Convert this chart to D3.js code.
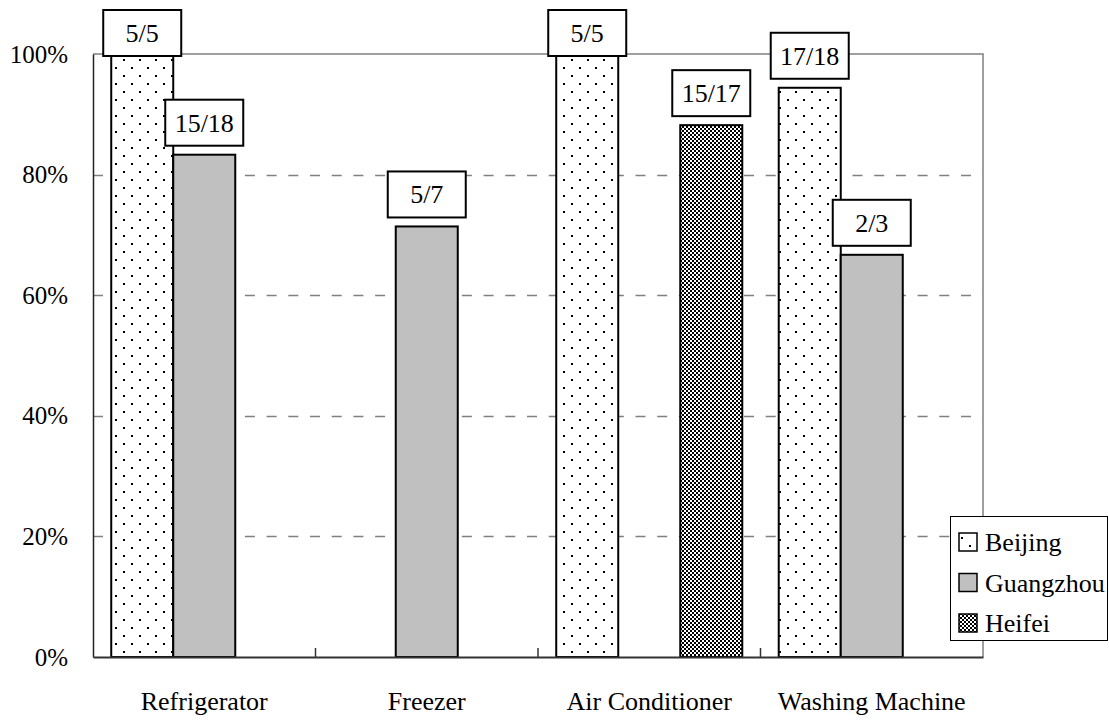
<!DOCTYPE html>
<html>
<head>
<meta charset="utf-8">
<script src="https://cdn.jsdelivr.net/npm/d3@7"></script>
<style>
  html, body { margin: 0; padding: 0; background: #fff; }
</style>
</head>
<body>
<svg id="chart" width="1109" height="722"></svg>
<script>
// ---- data ----
const categories = ["Refrigerator", "Freezer", "Air Conditioner", "Washing Machine"];
const seriesNames = ["Beijing", "Guangzhou", "Heifei"];
const beijingValues   = [1.0, null, 1.0, 0.944];
const guangzhouValues = [0.833, 0.714, null, 0.667];
const heifeiValues    = [null, null, 0.882, null];
const beijingLabels   = ["5/5", null, "5/5", "17/18"];
const guangzhouLabels = ["15/18", "5/7", null, "2/3"];
const heifeiLabels    = [null, null, "15/17", null];
const yTicks = [0, 0.2, 0.4, 0.6, 0.8, 1.0];
const yTickLabels = ["0%", "20%", "40%", "60%", "80%", "100%"];

const seriesValues = [beijingValues, guangzhouValues, heifeiValues];
const seriesLabels = [beijingLabels, guangzhouLabels, heifeiLabels];

// ---- layout ----
const FONT = "Liberation Serif";
const svg = d3.select("#chart");
const L = 93, R = 983, T = 54, B = 657;

const defs = svg.append("defs");
const dots = defs.append("pattern").attr("id", "dots")
  .attr("patternUnits", "userSpaceOnUse").attr("width", 16).attr("height", 16);
dots.append("rect").attr("width", 16).attr("height", 16).attr("fill", "#fff");
dots.append("rect").attr("x", 3).attr("y", 3).attr("width", 2).attr("height", 2).attr("fill", "#000");
dots.append("rect").attr("x", 11).attr("y", 11).attr("width", 2).attr("height", 2).attr("fill", "#000");

const checker = defs.append("pattern").attr("id", "checker")
  .attr("patternUnits", "userSpaceOnUse").attr("width", 4).attr("height", 4);
checker.append("rect").attr("width", 4).attr("height", 4).attr("fill", "#fff");
checker.append("rect").attr("x", 0).attr("y", 0).attr("width", 2).attr("height", 2).attr("fill", "#000");
checker.append("rect").attr("x", 2).attr("y", 2).attr("width", 2).attr("height", 2).attr("fill", "#000");

const fills = { "Beijing": "url(#dots)", "Guangzhou": "#C0C0C0", "Heifei": "url(#checker)" };

const x0 = d3.scaleBand().domain(categories).range([L, R]).paddingInner(0).paddingOuter(0);
const x1 = d3.scaleBand().domain(seriesNames).range([0, x0.bandwidth()]).paddingInner(0).paddingOuter(0.294);
const y = d3.scaleLinear().domain([0, 1]).range([B, T]);

// gridlines
svg.append("g").selectAll("line").data(yTicks.filter(t => t > 0 && t < 1)).join("line")
  .attr("x1", L).attr("x2", R)
  .attr("y1", d => Math.round(y(d)) + 0.5).attr("y2", d => Math.round(y(d)) + 0.5)
  .attr("stroke", "#808080").attr("stroke-width", 1.5)
  .attr("stroke-dasharray", "10,11.7");

// bars
const barData = [];
categories.forEach((c, ci) => {
  seriesNames.forEach((s, si) => {
    const v = seriesValues[si][ci];
    if (v != null) barData.push({ c, s, v, label: seriesLabels[si][ci] });
  });
});

svg.append("g").selectAll("rect").data(barData).join("rect")
  .attr("x", d => x0(d.c) + x1(d.s))
  .attr("y", d => y(d.v))
  .attr("width", x1.bandwidth())
  .attr("height", d => B - y(d.v))
  .attr("fill", d => fills[d.s])
  .attr("stroke", "#000").attr("stroke-width", 2);

// plot border (top/right gray)
svg.append("path")
  .attr("d", `M${L},${T}H${R}V${B}`)
  .attr("fill", "none").attr("stroke", "#808080").attr("stroke-width", 1.5);

// axes
const yAxis = d3.axisLeft(y).tickValues(yTicks).tickFormat((d, i) => yTickLabels[i]).tickSize(0).tickPadding(25);
const gy = svg.append("g").attr("transform", `translate(${L},0)`).call(yAxis);
gy.select(".domain").attr("stroke", "#222").attr("stroke-width", 1.5);
gy.selectAll("text").attr("fill", "#000")
  .style("font-family", FONT).style("font-size", "25px");

const xAxis = d3.axisBottom(x0).tickSize(0).tickPadding(0);
const gx = svg.append("g").attr("transform", `translate(0,${B})`).call(xAxis);
gx.select(".domain").attr("stroke", "#333").attr("stroke-width", 2);
gx.selectAll("text").attr("fill", "#000").attr("dy", null).attr("y", 53)
  .style("font-family", FONT).style("font-size", "26px");

// category boundary ticks
svg.append("g").selectAll("line").data(categories.slice(1)).join("line")
  .attr("x1", d => x0(d)).attr("x2", d => x0(d))
  .attr("y1", B).attr("y2", B - 9)
  .attr("stroke", "#333").attr("stroke-width", 1.5);

// data label boxes
const boxW = 78, boxH = 46, boxGap = 9;
const lab = svg.append("g").selectAll("g").data(barData).join("g")
  .attr("transform", d => {
    const cx = x0(d.c) + x1(d.s) + x1.bandwidth() / 2;
    const top = Math.max(y(d.v) - boxGap - boxH, 10);
    return `translate(${cx - boxW / 2},${top})`;
  });
lab.append("rect").attr("width", boxW).attr("height", boxH)
  .attr("fill", "#fff").attr("stroke", "#000").attr("stroke-width", 2);
lab.append("text").attr("x", boxW / 2).attr("y", boxH / 2 + 9)
  .attr("text-anchor", "middle").attr("fill", "#000")
  .style("font-family", FONT).style("font-size", "26px")
  .text(d => d.label);

// legend
const lg = svg.append("g").attr("transform", "translate(950,516)");
lg.append("rect").attr("x", 0.5).attr("y", 0.5).attr("width", 157).attr("height", 124)
  .attr("fill", "#fff").attr("stroke", "#000").attr("stroke-width", 1);
const rows = lg.selectAll("g.row").data(seriesNames).join("g").attr("class", "row")
  .attr("transform", (d, i) => `translate(0,${26 + i * 40.5})`);
rows.append("rect").attr("x", 9).attr("y", -9).attr("width", 18).attr("height", 18)
  .attr("fill", d => fills[d]).attr("stroke", "#000").attr("stroke-width", 1.5);
rows.append("text").attr("x", 35).attr("y", 9).attr("fill", "#000")
  .style("font-family", FONT).style("font-size", "26px")
  .text(d => d);
</script>
</body>
</html>
